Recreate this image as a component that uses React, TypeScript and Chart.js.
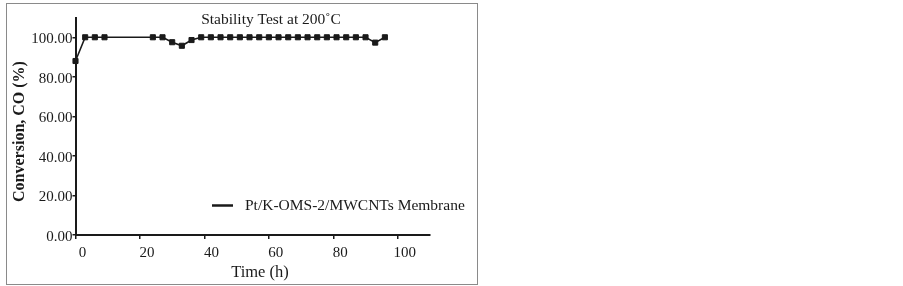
import React, { useEffect, useRef } from "react";
import { Chart, registerables } from "chart.js";

Chart.register(...registerables);

const hours = [0, 3, 6, 9, 24, 27, 30, 33, 36, 39, 42, 45, 48, 51, 54, 57, 60, 63, 66, 69, 72, 75, 78, 81, 84, 87, 90, 93, 96];
const conversion = [88, 100, 100, 100, 100, 100, 97.5, 95.7, 98.6, 100, 100, 100, 100, 100, 100, 100, 100, 100, 100, 100, 100, 100, 100, 100, 100, 100, 100, 97.3, 100];
const xTicks = [0, 20, 40, 60, 80, 100];
const yTicks = [0, 20, 40, 60, 80, 100];
const seriesLabel = "Pt/K-OMS-2/MWCNTs Membrane";
const chartTitle = "Stability Test at 200\u02DAC";
const xTitle = "Time (h)";
const yTitle = "Conversion, CO (%)";

const FONT = "'Liberation Serif', 'Times New Roman', serif";
const INK = "#1a1a1a";

const decorPlugin = {
  id: "decor",
  beforeDraw(chart: any) {
    const ctx = chart.ctx;
    ctx.save();
    ctx.fillStyle = "#ffffff";
    ctx.fillRect(0, 0, chart.width, chart.height);
    ctx.strokeStyle = "#8a8a8a";
    ctx.lineWidth = 1;
    ctx.strokeRect(6.5, 3.5, 471, 281);
    ctx.restore();
  },
  afterDraw(chart: any) {
    const ctx = chart.ctx;
    ctx.save();
    ctx.fillStyle = INK;
    ctx.textAlign = "center";
    ctx.textBaseline = "middle";
    ctx.font = `15.5px ${FONT}`;
    ctx.fillText(chartTitle, 271, 19.5);
    ctx.font = `16.5px ${FONT}`;
    ctx.fillText(xTitle, 260, 273);
    ctx.save();
    ctx.translate(20, 131.5);
    ctx.rotate(-Math.PI / 2);
    ctx.font = `bold 16px ${FONT}`;
    ctx.fillText(yTitle, 0, 0);
    ctx.restore();
    // legend
    ctx.strokeStyle = INK;
    ctx.lineWidth = 2.5;
    ctx.beginPath();
    ctx.moveTo(212, 205.5);
    ctx.lineTo(233, 205.5);
    ctx.stroke();
    ctx.textAlign = "left";
    ctx.font = `15.5px ${FONT}`;
    ctx.fillText(seriesLabel, 245, 205.5);
    ctx.restore();
  },
};

export default function App() {
  const ref = useRef<HTMLCanvasElement | null>(null);
  useEffect(() => {
    if (!ref.current) return;
    const chart = new Chart(ref.current, {
      type: "line",
      data: {
        datasets: [
          {
            label: seriesLabel,
            data: hours.map((h, i) => ({ x: h, y: conversion[i] })),
            borderColor: INK,
            backgroundColor: INK,
            borderWidth: 1.6,
            pointStyle: "rect",
            pointRadius: 3.6,
            pointBorderWidth: 1,
            pointBackgroundColor: INK,
            pointBorderColor: INK,
            tension: 0,
            clip: false,
          },
        ],
      },
      options: {
        animation: false,
        responsive: false,
        layout: { padding: { left: 0, right: 473, top: 17.5, bottom: 0 } },
        plugins: { legend: { display: false }, title: { display: false }, tooltip: { enabled: false } },
        scales: {
          x: {
            type: "linear",
            min: 0,
            max: 110,
            afterFit: (s: any) => { s.height = 51; },
            afterBuildTicks: (s: any) => { s.ticks = xTicks.map((v) => ({ value: v })); },
            grid: { display: true, drawOnChartArea: false, drawTicks: true, tickLength: 4, color: INK, lineWidth: 1.5 },
            border: { display: true, color: INK, width: 2 },
            ticks: { color: INK, font: { family: FONT, size: 15 }, padding: 5, labelOffset: 7, maxRotation: 0, autoSkip: false },
          },
          y: {
            type: "linear",
            min: 0,
            max: 110,
            afterFit: (s: any) => { s.width = 75.5; },
            afterBuildTicks: (s: any) => { s.ticks = yTicks.map((v) => ({ value: v })); },
            grid: { display: true, drawOnChartArea: false, drawTicks: true, tickLength: 3, color: INK, lineWidth: 1.5 },
            border: { display: true, color: INK, width: 2 },
            ticks: {
              color: INK,
              font: { family: FONT, size: 15 },
              padding: 0,
              labelOffset: 2,
              autoSkip: false,
              callback: (v: any) => Number(v).toFixed(2),
            },
          },
        },
      },
      plugins: [decorPlugin],
    });
    return () => chart.destroy();
  }, []);
  return (
    <div style={{ position: "fixed", left: 0, top: 0, width: 903, height: 286, background: "#fff" }}>
      <canvas ref={ref} width={903} height={286} style={{ width: 903, height: 286, display: "block" }} />
    </div>
  );
}
